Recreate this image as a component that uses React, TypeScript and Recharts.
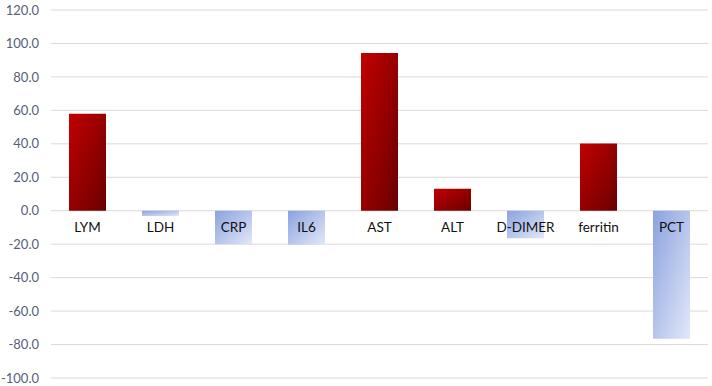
import React from 'react';
import { BarChart, Bar, XAxis, YAxis, CartesianGrid, Cell, LabelList } from 'recharts';

// markers and their change values (%)
const markers = ['LYM', 'LDH', 'CRP', 'IL6', 'AST', 'ALT', 'D-DIMER', 'ferritin', 'PCT'];
const changes = [58.0, -3.1, -20.0, -20.3, 94.3, 13.2, -16.5, 40.2, -76.5];
const yTicks = [-100, -80, -60, -40, -20, 0, 20, 40, 60, 80, 100, 120];

const data = markers.map((name, i) => ({ name, value: changes[i] }));

const FONT = 'Lato, "Open Sans", sans-serif';

// draws the category name just under the zero line
function ZeroLabel(props: any) {
  const { viewBox, index } = props;
  if (!viewBox) return null;
  const { x, y, width, height } = viewBox;
  const v = changes[index];
  const base = v < 0 ? Math.min(y, y + height) : Math.max(y, y + height);
  return (
    <text
      x={x + width / 2}
      y={base + 21}
      textAnchor="middle"
      fill="#111"
      fontSize={13.5}
      fontFamily={FONT}
    >
      {markers[index]}
    </text>
  );
}

export default function App() {
  return (
    <div style={{ position: 'absolute', left: 0, top: 0, width: 712, height: 386, background: '#fff' }}>
      <BarChart
        width={712}
        height={386}
        data={data}
        margin={{ top: 10, right: 4, left: 0, bottom: 8 }}
      >
        <defs>
          <linearGradient id="redFill" x1="0" y1="0" x2="1" y2="1">
            <stop offset="0%" stopColor="#c20000" />
            <stop offset="100%" stopColor="#6a0000" />
          </linearGradient>
          <linearGradient id="blueFill" x1="0" y1="0" x2="1" y2="1">
            <stop offset="0%" stopColor="#8ba2e0" />
            <stop offset="100%" stopColor="#e2e8f8" />
          </linearGradient>
        </defs>
        <CartesianGrid vertical={false} stroke="#d9d9d9" />
        <XAxis dataKey="name" hide height={0} />
        <YAxis
          width={51}
          domain={[-100, 120]}
          ticks={yTicks}
          interval={0}
          axisLine={false}
          tickLine={false}
          tickSize={0}
          tickMargin={12}
          tickFormatter={(v: number) => v.toFixed(1)}
          tick={{ fill: '#54607a', fontSize: 13, fontFamily: FONT }}
        />
        <Bar dataKey="value" barSize={37} isAnimationActive={false}>
          {data.map((d) => (
            <Cell key={d.name} fill={d.value < 0 ? 'url(#blueFill)' : 'url(#redFill)'} />
          ))}
          <LabelList dataKey="value" content={<ZeroLabel />} />
        </Bar>
      </BarChart>
    </div>
  );
}
